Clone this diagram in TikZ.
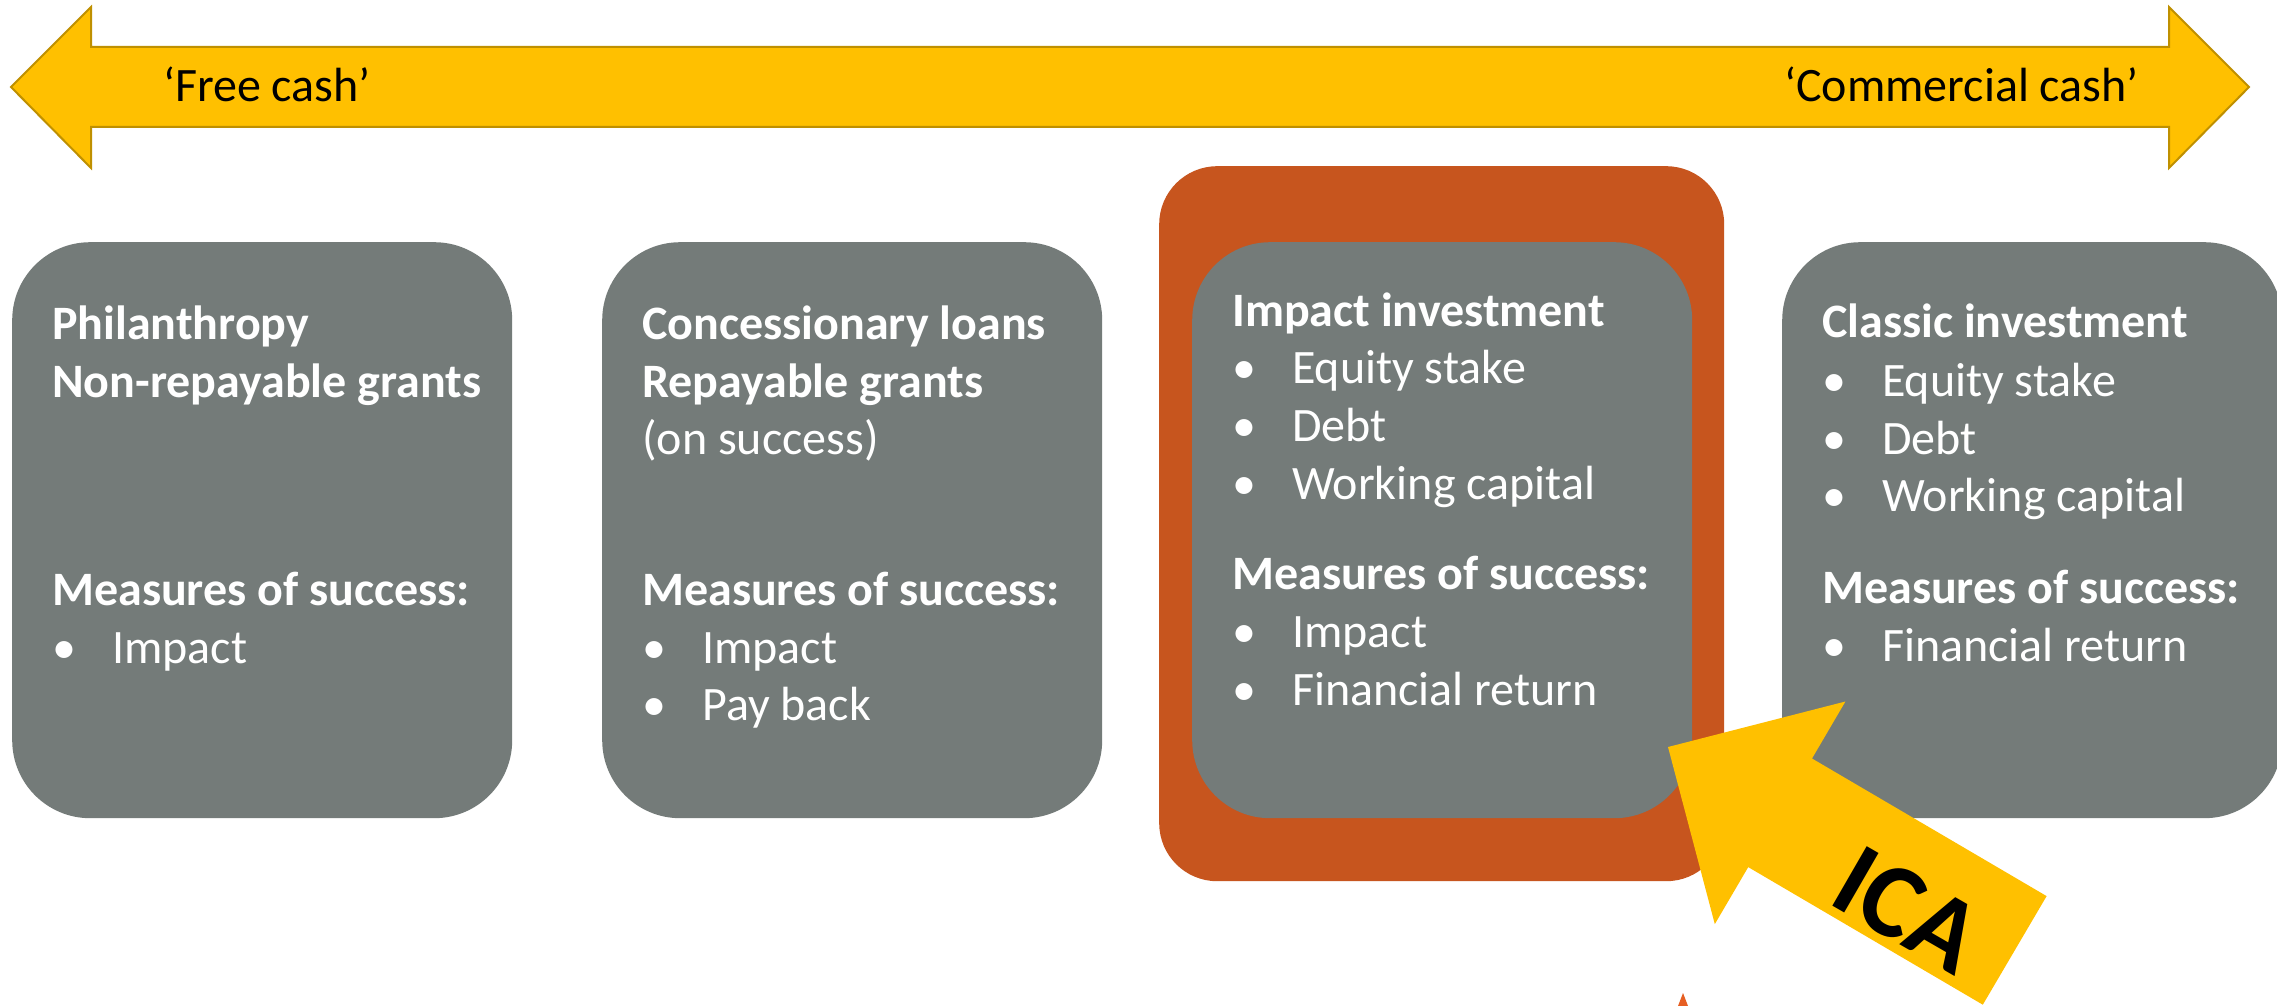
\documentclass[tikz,border=0pt]{standalone}
\usepackage{fontspec}
\setmainfont{Carlito}
\definecolor{boxgray}{RGB}{116,123,121}
\definecolor{rust}{RGB}{199,85,30}
\definecolor{gold}{RGB}{255,192,0}
\definecolor{goldedge}{RGB}{191,144,0}
\definecolor{flame}{RGB}{230,95,35}
\newcommand\listpt[1]{\makebox[60pt][l]{\textbullet}#1}
\begin{document}
\begin{tikzpicture}[x=1pt,y=-1pt,
  card/.style={fill=boxgray, draw=none, rounded corners=78pt,
    minimum width=500pt, minimum height=576pt, anchor=north west, inner sep=0pt},
  rowtext/.style={text=white, inner sep=0pt, anchor=base west,
    text height=34pt, text depth=10pt,
    font=\fontsize{48}{58}\selectfont},
  rowbold/.style={rowtext, font=\fontsize{48}{58}\selectfont\bfseries},
  cashtext/.style={text=black, inner sep=0pt, anchor=base west,
    font=\fontsize{48}{58}\selectfont},
  bandarrow/.style={fill=gold, draw=goldedge, line width=2pt, line join=miter},
  pointer/.style={fill=gold, draw=none}
]
% page
\path[use as bounding box, fill=white] (0,0) rectangle (2277,1006);

% two-headed band across the top
\draw[bandarrow] (11,87) -- (91,7) -- (91,47) -- (2169,47) -- (2169,7)
  -- (2249,87) -- (2169,168) -- (2169,127) -- (91,127) -- (91,168) -- cycle;
\node[cashtext] (free) at (163,102) {‘Free cash’};
\node[cashtext] (commercial) at (1784,102) {‘Commercial cash’};

% highlight frame and the four cards
\node[fill=rust, draw=none, rounded corners=58pt, minimum width=565pt,
  minimum height=715pt, anchor=north west, inner sep=0pt] (frame) at (1159,166) {};
\node[card] (b1) at (12,242) {};
\node[card] (b2) at (602,242) {};
\node[card] (b3) at (1192,242) {};
\node[card] (b4) at (1782,242) {};

% card 1
\node[rowbold] (b1a) at (52,339) {Philanthropy};
\node[rowbold] (b1b) at (52,397) {Non-repayable grants};
\node[rowbold] (b1c) at (52,605) {Measures of success:};
\node[rowtext] (b1d) at (52,663) {\listpt{Impact}};

% card 2
\node[rowbold] (b2a) at (642,339) {Concessionary loans};
\node[rowbold] (b2b) at (642,397) {Repayable grants};
\node[rowtext] (b2c) at (642,454) {(on success)};
\node[rowbold] (b2d) at (642,605) {Measures of success:};
\node[rowtext] (b2e) at (642,663) {\listpt{Impact}};
\node[rowtext] (b2f) at (642,720) {\listpt{Pay back}};

% card 3
\node[rowbold] (b3a) at (1232,326) {Impact investment};
\node[rowtext] (b3b) at (1232,383) {\listpt{Equity stake}};
\node[rowtext] (b3c) at (1232,441) {\listpt{Debt}};
\node[rowtext] (b3d) at (1232,499) {\listpt{Working capital}};
\node[rowbold] (b3e) at (1232,589) {Measures of success:};
\node[rowtext] (b3f) at (1232,647) {\listpt{Impact}};
\node[rowtext] (b3g) at (1232,705) {\listpt{Financial return}};

% card 4
\node[rowbold] (b4a) at (1822,337) {Classic investment};
\node[rowtext] (b4b) at (1822,396) {\listpt{Equity stake}};
\node[rowtext] (b4c) at (1822,454) {\listpt{Debt}};
\node[rowtext] (b4d) at (1822,511) {\listpt{Working capital}};
\node[rowbold] (b4e) at (1822,603) {Measures of success:};
\node[rowtext] (b4f) at (1822,661) {\listpt{Financial return}};

% small tip at the lower edge
\fill[flame] (1683,993) -- (1688,1006) -- (1678,1006) -- cycle;

% ICA pointer
\fill[pointer] (1668,747) -- (1845.4,701.5) -- (1812,758.5) -- (2046.6,896.1)
  -- (1982.8,1004.7) -- (1748.2,867.1) -- (1714.8,924.1) -- cycle;
\node[text=black, inner sep=0pt, rotate=-30,
  font=\fontsize{106}{120}\selectfont\bfseries] (ica) at (1908,910) {ICA};
\end{tikzpicture}
\end{document}
